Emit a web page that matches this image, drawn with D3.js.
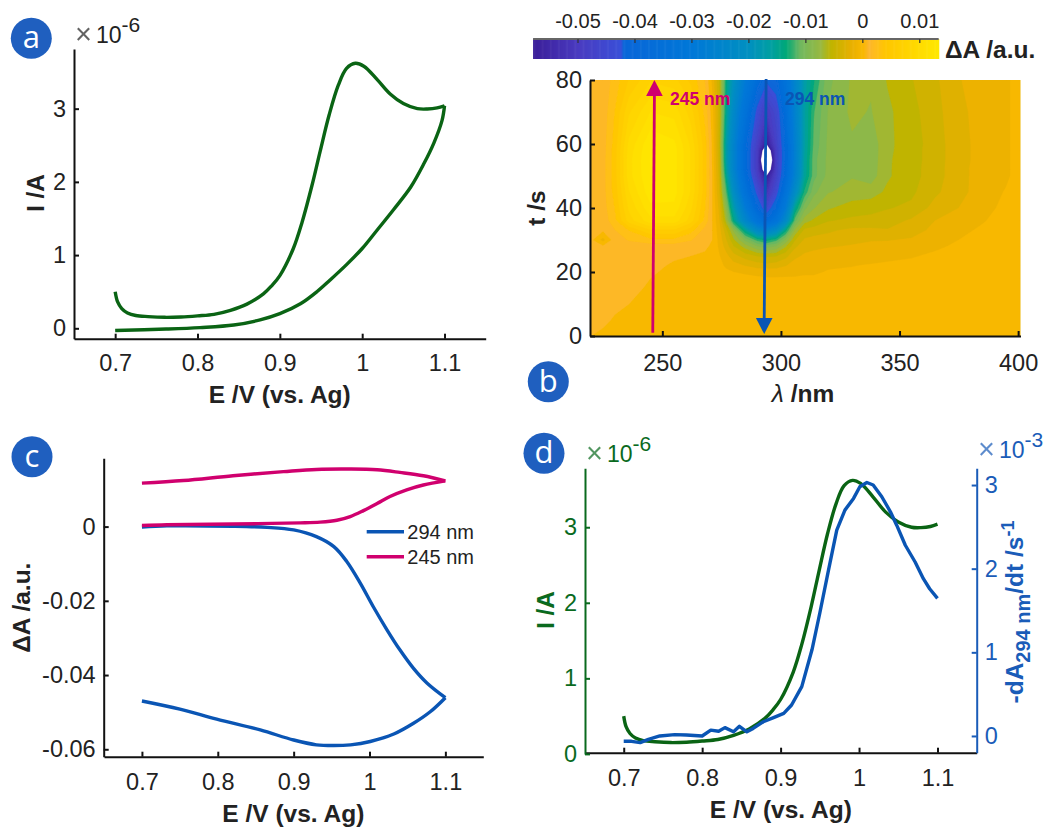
<!DOCTYPE html>
<html>
<head>
<meta charset="utf-8">
<script src="https://cdn.jsdelivr.net/npm/d3@7"></script>
<style>
  html, body { margin: 0; padding: 0; background: #fff; }
  svg { display: block; font-family: "Liberation Sans", Arial, sans-serif; }
  .tick text { font-family: "Liberation Sans", Arial, sans-serif; font-size: 23.5px; fill: #222; }
  .lab { font-size: 24.5px; font-weight: bold; fill: #222; }
</style>
</head>
<body>
<div id="figure"></div>
<script>
// Forward scan (panels a and d)
var forwardE = [0.7, 0.703, 0.708, 0.715, 0.725, 0.74, 0.76, 0.78, 0.8, 0.82, 0.84, 0.86, 0.88, 0.89, 0.9, 0.916, 0.927, 0.939, 0.949, 0.96, 0.971, 0.981, 0.9917, 1.002, 1.018, 1.034, 1.05, 1.067, 1.079, 1.091, 1.1];
var forwardI = [0.5, 0.36, 0.27, 0.21, 0.175, 0.16, 0.15, 0.155, 0.17, 0.19, 0.245, 0.33, 0.47, 0.58, 0.72, 1.08, 1.45, 1.95, 2.42, 2.92, 3.32, 3.55, 3.62, 3.58, 3.4, 3.2, 3.07, 3.0, 2.995, 3.01, 3.04];
// Return scan (panel a)
var returnE = [1.1, 1.097, 1.087, 1.075, 1.059, 1.038, 1.018, 1.0, 0.981, 0.961, 0.945, 0.925, 0.9, 0.876, 0.844, 0.803, 0.762, 0.7];
var returnI = [3.04, 2.84, 2.53, 2.25, 1.93, 1.62, 1.34, 1.09, 0.87, 0.66, 0.5, 0.335, 0.2, 0.115, 0.045, 0.01, -0.01, -0.03];

// Panel c, 294 nm trace, out and back
var blueOutE = [0.7, 0.733, 0.82, 0.865, 0.9, 0.93, 0.953, 0.97, 0.988, 1.005, 1.023, 1.04, 1.058, 1.076, 1.1];
var blueOutA = [-0.0001, 0.0002, 0.0001, -0.0002, -0.0009, -0.0027, -0.0054, -0.0094, -0.0153, -0.0216, -0.0278, -0.0332, -0.0382, -0.0422, -0.0461];
var blueBackE = [1.1, 1.08, 1.058, 1.032, 1.001, 0.975, 0.953, 0.93, 0.9, 0.856, 0.7986, 0.75, 0.7];
var blueBackA = [-0.0461, -0.0499, -0.053, -0.0559, -0.0579, -0.0588, -0.059, -0.0588, -0.0575, -0.0548, -0.0519, -0.0492, -0.047];
// Panel c, 245 nm trace, out and back
var pinkOutE = [0.7, 0.733, 0.8206, 0.9086, 0.935, 0.957, 0.9746, 0.992, 1.01, 1.027, 1.049, 1.071, 1.1];
var pinkOutA = [0.0003, 0.0005, 0.0007, 0.001, 0.0012, 0.0017, 0.0027, 0.0043, 0.0062, 0.0081, 0.0099, 0.0112, 0.0123];
var pinkBackE = [1.1, 1.071, 1.04, 1.01, 0.975, 0.93, 0.8866, 0.82, 0.7546, 0.7];
var pinkBackA = [0.0123, 0.0137, 0.0146, 0.0153, 0.0155, 0.0154, 0.0148, 0.0137, 0.0124, 0.0117];

// Panel d, -dA/dt at 294 nm
var rateE = [0.7, 0.71, 0.721, 0.7315, 0.746, 0.765, 0.78, 0.8, 0.811, 0.821, 0.829, 0.84, 0.8475, 0.857, 0.865, 0.878, 0.891, 0.904, 0.914, 0.927, 0.94, 0.95, 0.961, 0.9716, 0.982, 0.993, 1.001, 1.01, 1.018, 1.029, 1.04, 1.048, 1.059, 1.0715, 1.082, 1.09, 1.1];
var rateV = [-0.064, -0.064, -0.08, -0.04, 0, 0.016, 0.012, 0, 0.07, 0.056, 0.1, 0.05, 0.115, 0.05, 0.09, 0.17, 0.22, 0.27, 0.37, 0.59, 1.03, 1.47, 1.98, 2.46, 2.7, 2.84, 2.98, 3.03, 3.0, 2.86, 2.68, 2.52, 2.28, 2.08, 1.88, 1.76, 1.645];

// Panel b, dA map in units of 1e-3
var lambdas = [220, 225, 230, 236, 245, 255, 262, 268, 271, 274, 277, 280, 285, 290, 294, 298, 302, 306, 310, 314, 320, 330, 338, 345, 355, 365, 375, 385, 395, 401];
var times = [0, 5, 10, 15, 18, 20, 22, 25, 28, 30, 33, 36, 40, 45, 50, 52, 55, 58, 60, 70, 80];
var dA = [
  [.7, .5, .2, .1, 0, 0, 0, 0, 0, 0, 0, 0, 0, 0, 0, 0, 0, 0, 0, 0, 0, 0, 0, 0, 0, 0, 0, 0, 0, 0],
  [1, .9, .6, .3, .1, 0, 0, 0, 0, 0, 0, 0, 0, 0, 0, 0, 0, 0, 0, 0, 0, 0, 0, 0, 0, 0, 0, 0, 0, 0],
  [1, 1, .9, .7, .3, .1, 0, 0, 0, 0, 0, 0, 0, 0, 0, 0, 0, 0, 0, 0, 0, 0, 0, 0, 0, 0, 0, 0, 0, 0],
  [1, 1, 1, .9, .6, .3, .1, 0, 0, 0, 0, -.1, -.2, -.2, -.3, -.2, -.2, -.2, -.1, -.1, -.1, -.1, 0, 0, 0, 0, 0, 0, 0, 0],
  [1, 1, 1, 1, .7, .5, .4, .2, .1, -.1, -.2, -.3, -.4, -.5, -.6, -.6, -.6, -.6, -.5, -.5, -.3, -.2, -.2, -.1, -.1, 0, 0, 0, 0, 0],
  [1, 1, 1, 1, .8, .5, .45, .3, .1, -.3, -.5, -.7, -.9, -1.1, -1.2, -1.2, -1.1, -1, -.9, -.9, -.6, -.5, -.4, -.3, -.2, -.1, 0, 0, 0, 0],
  [1.1, 1, 1, 1.1, .9, .6, .5, .4, .2, -.4, -.9, -1.5, -2.2, -2.8, -3, -2.8, -2.2, -1.5, -1.3, -1.2, -.9, -.75, -.6, -.5, -.4, -.2, 0, 0, 0, 0],
  [1, 1, 1.1, 1.2, 1, .8, .7, .6, .3, -.6, -1.7, -3, -4.2, -5, -5.2, -5, -4, -2.4, -1.9, -1.7, -1.5, -1.4, -1.2, -1, -.8, -.5, -.2, 0, 0, 0],
  [1, .9, 1.2, 1.3, 1.3, 1.3, .95, .8, .6, -1, -2.8, -4.8, -7, -9, -9.8, -9, -6.5, -3.8, -2.6, -2.4, -2.2, -2, -1.8, -1.6, -1.4, -.9, -.5, -.2, 0, 0],
  [1, -1.2, 1.5, 2.2, 3, 3, 2.2, 1.1, .7, -1.2, -3.5, -6, -9.5, -12.5, -14, -12.5, -9, -5, -3.3, -3, -3, -2.4, -2.2, -2.2, -1.9, -1.2, -.7, -.3, -.1, 0],
  [1.1, .9, 2, 3.5, 6, 6, 4, 1.5, .7, -1.5, -4.5, -8, -15, -23, -26, -22, -14, -7.5, -4.5, -4.2, -3.7, -3.2, -3.2, -3.4, -2.9, -1.6, -1, -.5, -.1, 0],
  [1.2, 1.2, 3, 7, 10, 10, 7, 3, .7, -2, -7, -14, -24, -33, -38, -33, -23, -11, -7, -6, -5, -4.6, -4.4, -4.1, -3.3, -2.1, -1.3, -.8, -.2, 0],
  [1.2, 1.4, 3.5, 8, 11.5, 11.5, 8, 3.5, .7, -2.5, -9, -17, -29, -39, -46, -39, -29, -15, -9.5, -7.8, -6.5, -5.6, -5.4, -5, -4.6, -3, -2.1, -1.1, -.4, -.1],
  [1.3, 1.5, 4, 9, 12.8, 12.5, 9, 4, .7, -3.5, -12, -21, -34, -44, -52, -45, -34, -22, -13, -9.5, -7.8, -7.2, -7, -6, -5.2, -3.8, -2.6, -1.4, -.6, -.1],
  [1.3, 1.5, 4.2, 10, 13.2, 12.5, 9, 4.2, .7, -4, -15, -24, -37, -48, -57.7, -48, -38, -26, -15.5, -11, -8.6, -7.8, -8.4, -6.5, -5.4, -4.2, -2.5, -1.6, -.9, -.2],
  [1.3, 1.5, 4.2, 10, 13.3, 12.5, 9, 4.2, .7, -4.3, -16, -25, -38, -49, -65, -49, -38.5, -26.5, -15.8, -11, -8.7, -7.8, -8.5, -6.5, -5.4, -4.2, -2.5, -1.6, -.9, -.2],
  [1.3, 1.5, 4.2, 10, 13.4, 12.5, 9, 4.2, .6, -4.5, -17, -25, -38, -49, -72, -49, -39, -27, -16, -11, -8.7, -7.8, -8.6, -6.5, -5.5, -4.2, -2.6, -1.6, -.9, -.2],
  [1.2, 1.4, 4.1, 9.8, 13.2, 12.5, 9, 4.1, .55, -4.8, -17, -25, -38, -49, -65, -49, -39, -27, -16.3, -11.3, -8.8, -7.9, -8.6, -6.6, -5.5, -4.2, -2.6, -1.6, -.9, -.2],
  [1.2, 1.4, 4, 9.5, 13, 12.2, 8.8, 4, .5, -5, -17, -25, -38, -48, -57.7, -48, -39, -27, -16.5, -11.5, -8.8, -7.9, -8.6, -6.6, -5.6, -4.2, -2.6, -1.6, -.9, -.2],
  [1.1, 1.2, 3.5, 7.5, 10.5, 10, 7, 3, 0, -4.5, -15, -23, -34, -44, -50, -46, -37, -26, -16.5, -12, -9, -7.4, -7.8, -6.6, -5.4, -4, -2.5, -1.5, -.9, -.2],
  [1, 1.2, 2.6, 5, 7.5, 6.8, 4.5, 2, -1, -5, -14, -20, -29, -37, -42, -40, -34, -25, -17, -13.5, -9.5, -7.5, -7.5, -6.2, -5, -3.8, -2.2, -1.4, -.9, -.2]
];

// Colour bar stops
var cValues = [-57.7, -50, -42.5, -42, -30, -20, -16, -13.5, -11, -7.4, -5.6, -2, 0, 1, 2, 4, 10, 13.4];
var cColors = ["#3b1f9a", "#4a3bc0", "#3a50d8", "#0a66d8", "#0078d8", "#0090c0", "#00a0a0", "#00a878", "#70b860", "#98b840", "#c0b400", "#e8b000", "#f8b800", "#fcb52c", "#ffbc20", "#ffc600", "#ffdc00", "#ffe800"];
var cbarTicks = [-0.05, -0.04, -0.03, -0.02, -0.01, 0, 0.01];
var cbarLabels = ["-0.05", "-0.04", "-0.03", "-0.02", "-0.01", "0", "0.01"];

var eTicks = [0.7, 0.8, 0.9, 1, 1.1];
var eLabels = ["0.7", "0.8", "0.9", "1", "1.1"];

var green = "#0a6414", blue = "#0a55b4", pink = "#d0006e", badge = "#1f5fbf";

var svg = d3.select("#figure").append("svg").attr("width", 1047).attr("height", 827);
var defs = svg.append("defs");
defs.append("filter").attr("id", "soft").append("feGaussianBlur").attr("stdDeviation", 0.6);
defs.append("clipPath").attr("id", "mapClip").append("rect")
  .attr("x", 590).attr("y", 80).attr("width", 430.5).attr("height", 256);
var colorOf = d3.scaleLinear().domain(cValues).range(cColors).clamp(true);

// same look for all the axes
function xAxis(scale, y, values, labels, pad, color) {
  var g = svg.append("g").attr("transform", "translate(0," + y + ")")
    .call(d3.axisBottom(scale).tickValues(values).tickFormat((d, i) => labels[i])
      .tickSizeInner(-5).tickSizeOuter(0).tickPadding(pad));
  g.selectAll("path,line").attr("stroke", color || "#111").attr("stroke-width", 2);
  return g;
}
function yAxis(scale, x, values, labels, color, right) {
  var ax = right ? d3.axisRight(scale) : d3.axisLeft(scale);
  var g = svg.append("g").attr("transform", "translate(" + x + ",0)")
    .call(ax.tickValues(values).tickFormat((d, i) => labels[i])
      .tickSizeInner(-5).tickSizeOuter(0).tickPadding(8));
  g.selectAll("path,line").attr("stroke", color || "#111").attr("stroke-width", 2);
  if (color) g.selectAll("text").style("fill", color);
  return g;
}
function drawLine(xs, ys, x, y, color, curve, w) {
  var line = d3.line().x(i => x(xs[i])).y(i => y(ys[i])).curve(curve || d3.curveCatmullRom.alpha(0.5));
  svg.append("path").attr("d", line(d3.range(xs.length)))
    .attr("fill", "none").attr("stroke", color).attr("stroke-width", w || 3.4)
    .attr("stroke-linejoin", "round");
}
function label(txt, x, y, rotate, color) {
  var t = svg.append("text").attr("class", "lab").attr("text-anchor", "middle").text(txt);
  t.attr("transform", "translate(" + x + "," + y + ")" + (rotate ? " rotate(-90)" : ""));
  if (color) t.style("fill", color);
  return t;
}
function exponent(x, y, power, color) {
  svg.append("text").attr("x", x - 2).attr("y", y + 1).attr("font-size", 29).attr("fill", color).attr("opacity", 0.7).text("\u00d7");
  var t = svg.append("text").attr("x", x + 19).attr("y", y).attr("font-size", 23).attr("fill", color).text("10");
  t.append("tspan").attr("dy", -11).attr("font-size", 21).text(power);
}
function letter(txt, x, y) {
  svg.append("circle").attr("cx", x).attr("cy", y).attr("r", 20.5).attr("fill", badge);
  svg.append("text").attr("x", x).attr("y", y + 10).attr("text-anchor", "middle")
    .attr("fill", "#fff").attr("font-size", 31).style("font-family", "'Open Sans', sans-serif").text(txt);
}

// ---------- panel a
var xa = d3.scaleLinear().domain([0.65, 1.15]).range([74, 485.7]);
var ya = d3.scaleLinear().domain([-0.142, 3.815]).range([338.7, 49]);
drawLine(forwardE, forwardI, xa, ya, green);
drawLine(returnE, returnI, xa, ya, green);
xAxis(xa, 338.7, eTicks, eLabels, 16);
yAxis(ya, 74, [0, 1, 2, 3], ["0", "1", "2", "3"]);
label("E /V (vs. Ag)", 279.7, 403);
label("I /A", 44, 193, true);
exponent(77, 43, "-6", "#222");
letter("a", 31.3, 38.3);

// ---------- panel b
var xb = d3.scaleLinear().domain([220, 400]).range([591.1, 1018]);
var yb = d3.scaleLinear().domain([0, 80]).range([336, 80]);

// grid index -> data, the grid is not evenly spaced
var colToL = d3.scaleLinear().domain(d3.range(lambdas.length)).range(lambdas);
var rowToT = d3.scaleLinear().domain(d3.range(times.length)).range(times);

var levels = d3.range(-40, 11).map(k => -0.7 + k * 1.4);
levels.unshift(-57.8);
var flat = [];
dA.forEach(r => r.forEach(v => flat.push(v)));
var contours = d3.contours().size([lambdas.length, times.length]).smooth(true).thresholds(levels)(flat);

// contours live on cell centres, so shift by half a cell before mapping
var project = d3.geoTransform({
  point: function(px, py) {
    var cx = Math.max(0, Math.min(lambdas.length - 1, px - 0.5));
    var cy = Math.max(0, Math.min(times.length - 1, py - 0.5));
    this.stream.point(xb(colToL(cx)), yb(rowToT(cy)));
  }
});
var geo = d3.geoPath(project);
svg.append("g").attr("clip-path", "url(#mapClip)").append("g").attr("filter", "url(#soft)")
  .selectAll("path").data(contours).enter().append("path")
  .attr("d", geo)
  .attr("fill", (d, i) => colorOf(i == 0 ? -57.1 : d.value + 0.7))
  .attr("stroke", (d, i) => colorOf(i == 0 ? -57.1 : d.value + 0.7))
  .attr("stroke-width", 0.3);

// colour bar
var xc = d3.scaleLinear().domain([-0.05, 0.01]).range([577.5, 919.3]);
var barStops = d3.range(-57.8, 13.4, 0.2);
svg.append("g").selectAll("rect").data(barStops).enter().append("rect")
  .attr("x", d => xc(d / 1000)).attr("y", 39)
  .attr("width", xc(0.0002) - xc(0) + 0.6).attr("height", 20)
  .attr("fill", d => colorOf(d));
var cax = svg.append("g").attr("transform", "translate(0,39)")
  .call(d3.axisTop(xc).tickValues(cbarTicks).tickFormat((d, i) => cbarLabels[i])
    .tickSizeInner(-4).tickSizeOuter(0).tickPadding(11));
cax.select("path").attr("stroke", "#666").attr("stroke-width", 2).attr("d", "M" + xc(-0.0578) + ",0H" + xc(0.0134));
cax.selectAll("line").attr("stroke", "#333").attr("stroke-width", 1.2);
cax.selectAll("text").style("font-size", "20px");
svg.append("text").attr("class", "lab").attr("x", 945).attr("y", 58).text("\u0394A /a.u.");

// the two wavelength arrows
function arrow(l0, t0, l1, t1, color) {
  var d = t1 > t0 ? 1 : -1;
  var base = yb(t1) + 16 * d;
  svg.append("line").attr("x1", xb(l0)).attr("y1", yb(t0)).attr("x2", xb(l1)).attr("y2", base)
    .attr("stroke", color).attr("stroke-width", 2.8);
  svg.append("path").attr("fill", color)
    .attr("d", "M" + xb(l1) + "," + yb(t1) + "L" + (xb(l1) - 8.3) + "," + base + "H" + (xb(l1) + 8.3) + "Z");
}
arrow(246, 1, 246.7, 80, pink);
arrow(293.8, 80.3, 293, 0.6, blue);
svg.append("text").attr("x", 670).attr("y", 105).attr("font-size", 17.5).attr("font-weight", "bold").attr("fill", pink).text("245 nm");
svg.append("text").attr("x", 785).attr("y", 105).attr("font-size", 17.5).attr("font-weight", "bold").attr("fill", blue).text("294 nm");

xAxis(d3.scaleLinear().domain([219.5, 401]).range([590, 1020.5]), 336, [250, 300, 350, 400], ["250", "300", "350", "400"], 18);
yAxis(yb, 590, [0, 20, 40, 60, 80], ["0", "20", "40", "60", "80"]);
var lam = svg.append("text").attr("class", "lab").attr("text-anchor", "middle").attr("x", 803).attr("y", 402);
lam.append("tspan").style("font-style", "italic").style("font-weight", "normal").text("\u03bb");
lam.append("tspan").text(" /nm");
label("t /s", 545, 208, true);
letter("b", 548.3, 381.7);

// ---------- panel c
var xc2 = d3.scaleLinear().domain([0.65, 1.15]).range([104, 483.3]);
var yc = d3.scaleLinear().domain([-0.062, 0.0184]).range([756.7, 458.3]);
drawLine(blueOutE, blueOutA, xc2, yc, blue);
drawLine(blueBackE, blueBackA, xc2, yc, blue);
drawLine(pinkOutE, pinkOutA, xc2, yc, pink);
drawLine(pinkBackE, pinkBackA, xc2, yc, pink);
xAxis(xc2, 756.7, eTicks, eLabels, 17);
yAxis(yc, 103.7, [-0.06, -0.04, -0.02, 0], ["-0.06", "-0.04", "-0.02", "0"]);
label("E /V (vs. Ag)", 293.3, 821.7);
label("\u0394A /a.u.", 30, 607.7, true);
var legendNames = ["294 nm", "245 nm"], legendColors = [blue, pink], legendY = [531.7, 556.7];
legendNames.forEach(function(n, i) {
  svg.append("line").attr("x1", 366.7).attr("x2", 404).attr("y1", legendY[i]).attr("y2", legendY[i])
    .attr("stroke", legendColors[i]).attr("stroke-width", 3.4);
  svg.append("text").attr("x", 407.3).attr("y", legendY[i] + 7.5).attr("font-size", 20).attr("fill", "#222").text(n);
});
letter("c", 32, 456.7);

// ---------- panel d
var xd = d3.scaleLinear().domain([0.65, 1.15]).range([584.5, 976.7]);
var yd = d3.scaleLinear().domain([0, 3.78]).range([753.9, 468.3]);
var yr = d3.scaleLinear().domain([-0.2, 3.2]).range([752.7, 468.3]);
drawLine(forwardE, forwardI, xd, yd, green);
drawLine(rateE, rateV, xd, yr, blue, d3.curveLinear);
xAxis(xd, 752.7, eTicks, eLabels, 17);
yAxis(yd, 585, [0, 1, 2, 3], ["0", "1", "2", "3"], "#0a6a1e");
yAxis(yr, 976.7, [0, 1, 2, 3], ["0", "1", "2", "3"], "#1a5cb8", true);
label("E /V (vs. Ag)", 780.8, 818.3);
label("I /A", 554.3, 610, true, "#0a6a1e");
var rl = label("", 1023, 612, true, "#1a5cb8");
rl.append("tspan").text("-dA");
rl.append("tspan").attr("dy", 7).attr("font-size", 20).text("294 nm");
rl.append("tspan").attr("dy", -7).text("/dt /s");
rl.append("tspan").attr("dy", -9).attr("font-size", 18).text("-1");
exponent(588, 462, "-6", "#0a6a1e");
exponent(980, 458, "-3", "#1a5cb8");
letter("d", 544, 453.3);
</script>
</body>
</html>
